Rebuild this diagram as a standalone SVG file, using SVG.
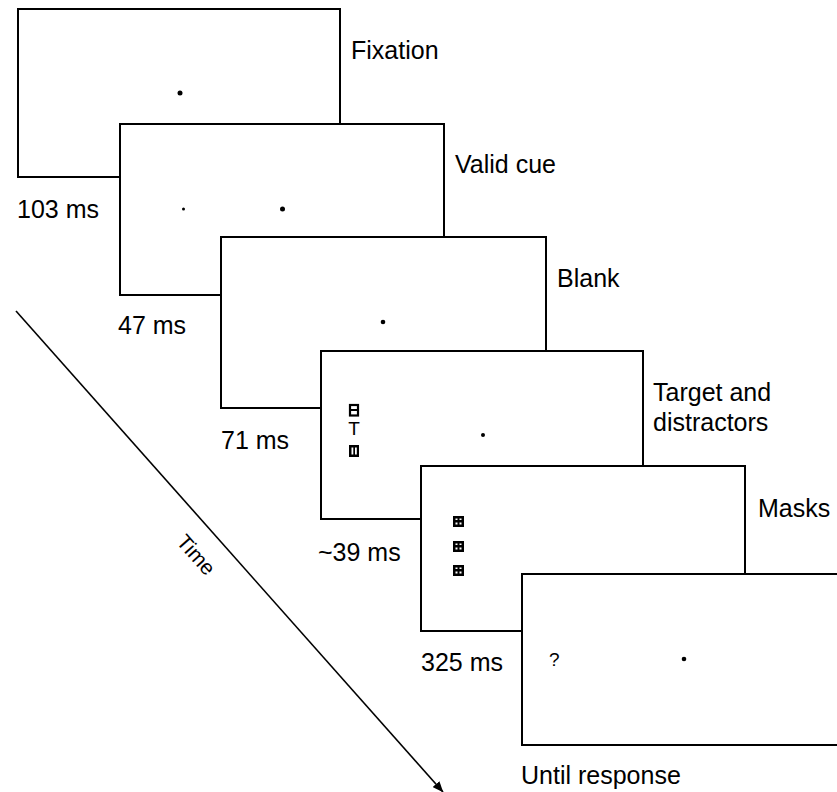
<svg xmlns="http://www.w3.org/2000/svg" xmlns:xlink="http://www.w3.org/1999/xlink" width="837" height="792" viewBox="0 0 837 792">
  <style>
    .panel { fill: #ffffff; stroke: #000000; stroke-width: 2; }
    .lbl { font-family: "Liberation Sans", Arial, sans-serif; font-size: 25px; fill: #000000; }
    .small { font-family: "Liberation Sans", Arial, sans-serif; font-size: 19px; fill: #000000; }
    .time { font-family: "Liberation Sans", Arial, sans-serif; font-size: 21px; fill: #000000; }
    .dot { fill: #000000; }
  </style>
  <defs>
    <marker id="arrowhead" markerWidth="11" markerHeight="9" refX="10.5" refY="4.5" orient="auto" markerUnits="userSpaceOnUse">
      <path d="M0,0 L11,4.5 L0,9 Z" fill="#000000"/>
    </marker>
    <g id="maskglyph">
      <rect x="0" y="0" width="11" height="11" fill="#000000"/>
      <rect x="2.5" y="2.5" width="2" height="1.5" fill="#ffffff"/>
      <rect x="6.5" y="2.5" width="2" height="1.5" fill="#ffffff"/>
      <rect x="2.5" y="6.5" width="2" height="2" fill="#ffffff"/>
      <rect x="6.5" y="6.5" width="2" height="2" fill="#ffffff"/>
    </g>
  </defs>
  <rect x="0" y="0" width="837" height="792" fill="#ffffff"/>

  <g id="fixation">
    <rect class="panel" x="18" y="9" width="322" height="168"/>
    <circle class="dot" cx="180" cy="93" r="2.5"/>
    <text class="lbl" x="351" y="59">Fixation</text>
    <text class="lbl" x="17" y="218">103 ms</text>
  </g>

  <g id="valid-cue">
    <rect class="panel" x="120" y="124" width="324" height="171"/>
    <circle class="dot" cx="183.5" cy="209" r="1.5"/>
    <circle class="dot" cx="282.5" cy="209" r="2.5"/>
    <text class="lbl" x="455" y="173">Valid cue</text>
    <text class="lbl" x="118" y="334">47 ms</text>
  </g>

  <g id="blank">
    <rect class="panel" x="221" y="237" width="325" height="171"/>
    <circle class="dot" cx="383" cy="322" r="2.3"/>
    <text class="lbl" x="557" y="287">Blank</text>
    <text class="lbl" x="221" y="449">71 ms</text>
  </g>

  <g id="target">
    <rect class="panel" x="321" y="351" width="322" height="168"/>
    <circle class="dot" cx="483" cy="435" r="2"/>
    <rect x="350" y="405" width="8" height="10.5" fill="none" stroke="#000000" stroke-width="2.2"/>
    <line x1="350" y1="410" x2="358" y2="410" stroke="#000000" stroke-width="2"/>
    <text class="small" x="354" y="435" text-anchor="middle">T</text>
    <rect x="349" y="445" width="10" height="12" fill="#000000"/>
    <rect x="351.5" y="447.5" width="1.8" height="7" fill="#ffffff"/>
    <rect x="355" y="447.5" width="1.8" height="7" fill="#ffffff"/>
    <text class="lbl" x="653" y="401">Target and</text>
    <text class="lbl" x="653" y="431">distractors</text>
    <text class="lbl" x="318" y="561">~39 ms</text>
  </g>

  <g id="masks">
    <rect class="panel" x="421" y="466" width="324" height="165"/>
    <use xlink:href="#maskglyph" x="453" y="516"/>
    <use xlink:href="#maskglyph" x="453" y="541"/>
    <use xlink:href="#maskglyph" x="453" y="565"/>
    <text class="lbl" x="758" y="517">Masks</text>
    <text class="lbl" x="421" y="671">325 ms</text>
  </g>

  <g id="response">
    <rect class="panel" x="522" y="574" width="340" height="171"/>
    <text class="small" x="549" y="666">?</text>
    <circle class="dot" cx="684" cy="659" r="2.3"/>
    <text class="lbl" x="521" y="784">Until response</text>
  </g>

  <g id="connectors">
    <line x1="16" y1="311" x2="443" y2="792" stroke="#000000" stroke-width="1.6" marker-end="url(#arrowhead)"/>
    <text class="time" transform="translate(196,555) rotate(48.4)" x="0" y="7" text-anchor="middle">Time</text>
  </g>
</svg>
